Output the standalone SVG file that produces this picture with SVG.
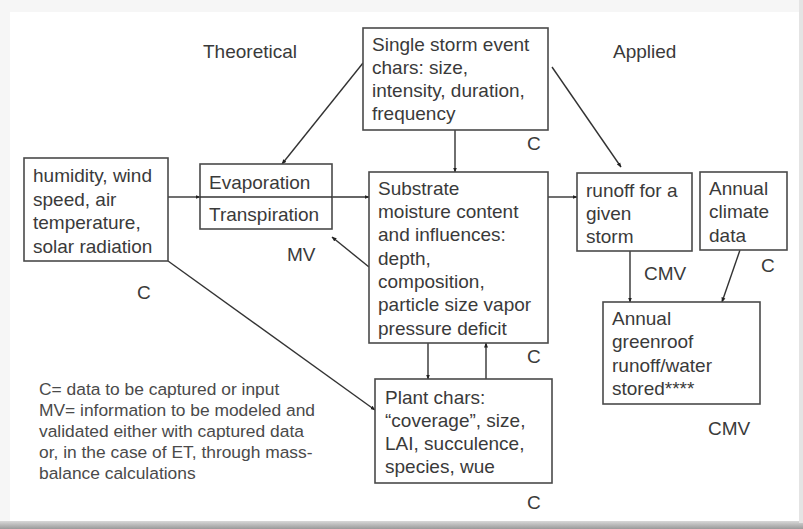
<svg xmlns="http://www.w3.org/2000/svg" width="803" height="529" viewBox="0 0 803 529">
<defs>
<marker id="ah" viewBox="0 0 10 10" refX="9" refY="5" markerWidth="5" markerHeight="5" markerUnits="userSpaceOnUse" orient="auto">
<path d="M0,1 L10,5 L0,9 z" fill="#222"/>
</marker>
<linearGradient id="shadow" x1="0" y1="0" x2="0" y2="1">
<stop offset="0" stop-color="#d8d8d8"/>
<stop offset="1" stop-color="#9a9a9a"/>
</linearGradient>
</defs>
<style>
.bg{fill:#f6f6f6}
.card{fill:#ffffff}
.box{fill:#ffffff;stroke:#4a4a4a;stroke-width:1.6}
.t{font-family:"Liberation Sans",Arial,sans-serif;font-size:19px;fill:#3a3a3a}
.lg{font-family:"Liberation Sans",Arial,sans-serif;font-size:17.4px;fill:#4a4a4a}
.c{fill:none;stroke:#333;stroke-width:1.4;marker-end:url(#ah)}
.p{fill:none;stroke:#333;stroke-width:1.4}
</style>
<rect class="bg" x="0" y="0" width="803" height="529"/>
<rect x="0" y="521" width="803" height="8" fill="url(#shadow)"/>
<rect x="799" y="0" width="4" height="523" fill="#e4e4e4"/>
<rect class="card" x="10" y="12" width="789" height="509"/>

<g id="labels">
<text class="t" x="203" y="58">Theoretical</text>
<text class="t" x="613" y="58">Applied</text>
</g>

<g id="connectors">
<path class="c" d="M363,63 L282,164"/>
<path class="c" d="M455,130 L455,172"/>
<path class="c" d="M552,67 L621,167"/>
<path class="c" d="M168,197 L200,197"/>
<path class="c" d="M200,197 L369,197"/>
<path class="c" d="M369,267 L332,237"/>
<path class="c" d="M548,197 L577,197"/>
<path class="c" d="M168,261 L375,410"/>
<path class="c" d="M428,343 L428,379"/>
<path class="c" d="M486,379 L486,343"/>
<path class="c" d="M630,251 L630,302"/>
<path class="c" d="M740,250 L722,302"/>
</g>

<g id="storm">
<rect class="box" x="363" y="28" width="185" height="102"/>
<text class="t" x="372" y="51">Single storm event</text>
<text class="t" x="372" y="74">chars: size,</text>
<text class="t" x="372" y="97">intensity, duration,</text>
<text class="t" x="372" y="120">frequency</text>
<text class="t" x="527" y="150">C</text>
</g>

<g id="weather">
<rect class="box" x="24" y="158" width="144" height="103"/>
<text class="t" x="33" y="182">humidity, wind</text>
<text class="t" x="33" y="206">speed, air</text>
<text class="t" x="33" y="229">temperature,</text>
<text class="t" x="33" y="253">solar radiation</text>
<text class="t" x="137" y="299">C</text>
</g>

<g id="et">
<rect class="box" x="200" y="164" width="132" height="65"/>
<line class="p" x1="200" y1="197" x2="332" y2="197"/>
<text class="t" x="209" y="189">Evaporation</text>
<text class="t" x="209" y="221">Transpiration</text>
<text class="t" x="287" y="261">MV</text>
</g>

<g id="substrate">
<rect class="box" x="369" y="172" width="179" height="171"/>
<text class="t" x="378" y="195">Substrate</text>
<text class="t" x="378" y="218">moisture content</text>
<text class="t" x="378" y="241">and influences:</text>
<text class="t" x="378" y="265">depth,</text>
<text class="t" x="378" y="288">composition,</text>
<text class="t" x="378" y="311">particle size vapor</text>
<text class="t" x="378" y="335">pressure deficit</text>
<text class="t" x="527" y="363">C</text>
</g>

<g id="plant">
<rect class="box" x="375" y="379" width="177" height="104"/>
<text class="t" x="385" y="404">Plant chars:</text>
<text class="t" x="385" y="427">“coverage”, size,</text>
<text class="t" x="385" y="450">LAI, succulence,</text>
<text class="t" x="385" y="473">species, wue</text>
<text class="t" x="527" y="509">C</text>
</g>

<g id="runoff">
<rect class="box" x="577" y="173" width="115" height="78"/>
<text class="t" x="586" y="197">runoff for a</text>
<text class="t" x="586" y="220">given</text>
<text class="t" x="586" y="243">storm</text>
<text class="t" x="644" y="280">CMV</text>
</g>

<g id="climate">
<rect class="box" x="700" y="172" width="87" height="78"/>
<text class="t" x="709" y="195">Annual</text>
<text class="t" x="709" y="218">climate</text>
<text class="t" x="709" y="242">data</text>
<text class="t" x="761" y="272">C</text>
</g>

<g id="annual">
<rect class="box" x="603" y="302" width="157" height="102"/>
<text class="t" x="612" y="325">Annual</text>
<text class="t" x="612" y="348">greenroof</text>
<text class="t" x="612" y="372">runoff/water</text>
<text class="t" x="612" y="395">stored****</text>
<text class="t" x="708" y="435">CMV</text>
</g>

<g id="legend">
<text class="lg" x="39" y="395">C= data to be captured or input</text>
<text class="lg" x="39" y="416">MV= information to be modeled and</text>
<text class="lg" x="39" y="437">validated either with captured data</text>
<text class="lg" x="39" y="458">or, in the case of ET, through mass-</text>
<text class="lg" x="39" y="479">balance calculations</text>
</g>
</svg>
